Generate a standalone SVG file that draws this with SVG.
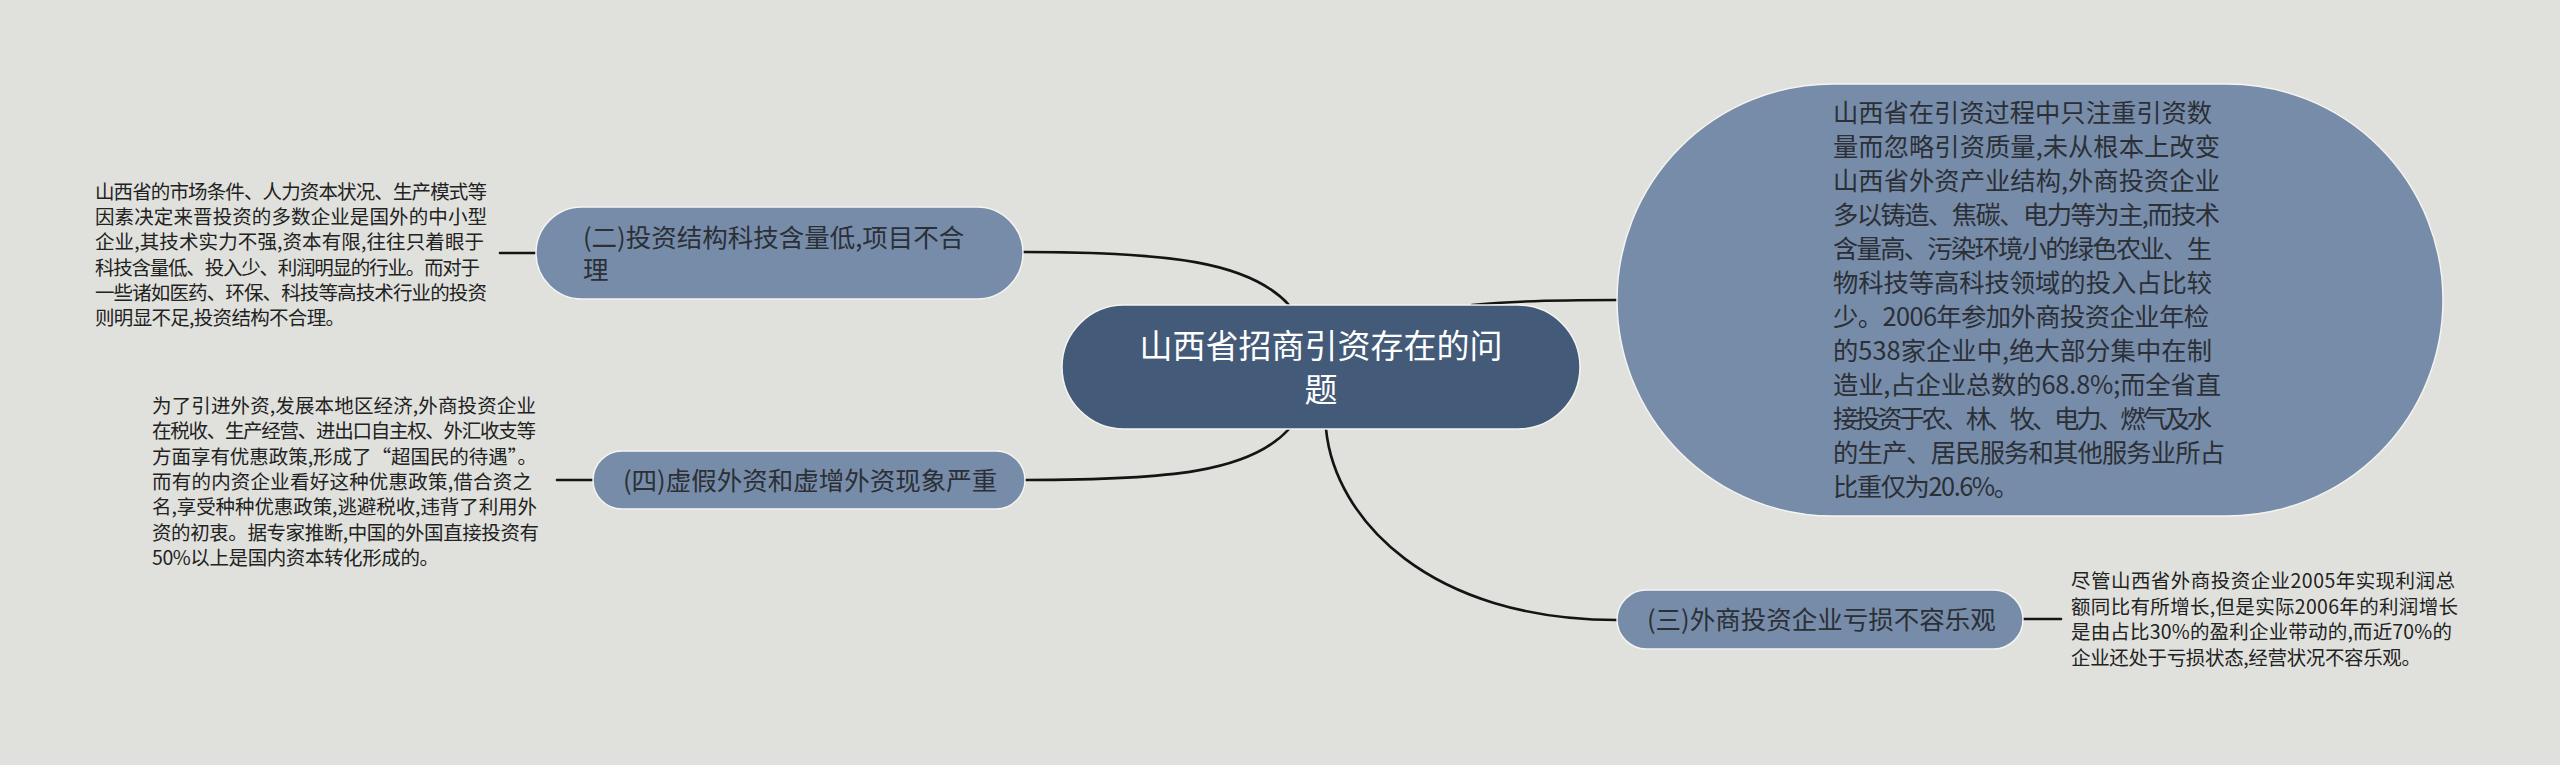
<svg xmlns="http://www.w3.org/2000/svg" width="2560" height="765" viewBox="0 0 2560 765">
<style>
.bg{fill:#e0e1dc}
.main{fill:#435a79;stroke:#f4f4f2;stroke-width:1.5}
.sub{fill:#778ca9;stroke:#f4f4f2;stroke-width:1.5}
.conn{fill:none;stroke:#141414;stroke-width:2.6;stroke-linecap:round}
text{font-family:"Noto Sans CJK SC","Noto Sans",sans-serif}
.tmain{fill:#ffffff;font-size:33px}
.tsub{fill:#2b2f36;font-size:25.5px}
.tbig{fill:#2b2f36;font-size:25.3px}
.tdet{fill:#222222;font-size:19.5px}
</style>
<rect class="bg" x="0" y="0" width="2560" height="765"/>
<g id="connectors">
<path class="conn" d="M1289,305 C1250,262 1170,252 1023,252"/>
<path class="conn" d="M1289,429 C1250,472 1170,480 1025,480"/>
<path class="conn" d="M1472,305 C1510,301 1550,300 1617,300"/>
<path class="conn" d="M1326,429 C1335,520 1430,620 1617,620"/>
<path class="conn" d="M500,253 L537,253"/>
<path class="conn" d="M557,480 L593,480"/>
<path class="conn" d="M2023,619 L2061,619"/>
</g>
<g id="root">
<rect class="main" x="1062" y="305" width="518" height="124" rx="62" ry="62"/>
<text class="tmain" text-anchor="middle"><tspan x="1321" y="358">山西省招商引资存在的问</tspan><tspan x="1321" y="402">题</tspan></text>
</g>
<g id="node-er">
<rect class="sub" x="536" y="207" width="487" height="92" rx="46" ry="46"/>
<text class="tsub"><tspan x="583" y="247">(二)投资结构科技含量低,项目不合</tspan><tspan x="583" y="279">理</tspan></text>
</g>
<g id="detail-er">
<text class="tdet" x="95" y="199" textLength="392">山西省的市场条件、人力资本状况、生产模式等</text>
<text class="tdet" x="95" y="224.2" textLength="392">因素决定来晋投资的多数企业是国外的中小型</text>
<text class="tdet" x="95" y="249.4" textLength="389">企业,其技术实力不强,资本有限,往往只着眼于</text>
<text class="tdet" x="95" y="274.6" textLength="385">科技含量低、投入少、利润明显的行业。而对于</text>
<text class="tdet" x="95" y="299.8" textLength="392">一些诸如医药、环保、科技等高技术行业的投资</text>
<text class="tdet" x="95" y="325" textLength="250">则明显不足,投资结构不合理。</text>
</g>
<g id="node-si">
<rect class="sub" x="593" y="451" width="432" height="58" rx="29" ry="29"/>
<text class="tsub" x="623" y="490">(四)虚假外资和虚增外资现象严重</text>
</g>
<g id="detail-si">
<text class="tdet" x="152" y="413" textLength="384">为了引进外资,发展本地区经济,外商投资企业</text>
<text class="tdet" x="152" y="438.3" textLength="384">在税收、生产经营、进出口自主权、外汇收支等</text>
<text class="tdet" x="152" y="463.6" textLength="385">方面享有优惠政策,形成了“超国民的待遇”。</text>
<text class="tdet" x="152" y="488.9" textLength="380">而有的内资企业看好这种优惠政策,借合资之</text>
<text class="tdet" x="152" y="514.2" textLength="385">名,享受种种优惠政策,逃避税收,违背了利用外</text>
<text class="tdet" x="152" y="539.5" textLength="387">资的初衷。据专家推断,中国的外国直接投资有</text>
<text class="tdet" x="152" y="564.8" textLength="287">50%以上是国内资本转化形成的。</text>
</g>
<g id="node-big">
<rect class="sub" x="1617" y="84" width="826" height="432" rx="216" ry="216"/>
<text class="tbig" x="1833" y="122" textLength="379">山西省在引资过程中只注重引资数</text>
<text class="tbig" x="1833" y="156" textLength="387">量而忽略引资质量,未从根本上改变</text>
<text class="tbig" x="1833" y="190" textLength="387">山西省外资产业结构,外商投资企业</text>
<text class="tbig" x="1833" y="224" textLength="387">多以铸造、焦碳、电力等为主,而技术</text>
<text class="tbig" x="1833" y="258" textLength="379">含量高、污染环境小的绿色农业、生</text>
<text class="tbig" x="1833" y="292" textLength="379">物科技等高科技领域的投入占比较</text>
<text class="tbig" x="1833" y="326" textLength="376">少。2006年参加外商投资企业年检</text>
<text class="tbig" x="1833" y="360" textLength="379">的538家企业中,绝大部分集中在制</text>
<text class="tbig" x="1833" y="394" textLength="388">造业,占企业总数的68.8%;而全省直</text>
<text class="tbig" x="1833" y="428" textLength="379">接投资于农、林、牧、电力、燃气及水</text>
<text class="tbig" x="1833" y="462" textLength="392">的生产、居民服务和其他服务业所占</text>
<text class="tbig" x="1833" y="496" textLength="186">比重仅为20.6%。</text>
</g>
<g id="node-san">
<rect class="sub" x="1617" y="590" width="406" height="59" rx="29.5" ry="29.5"/>
<text class="tsub" x="1647" y="629">(三)外商投资企业亏损不容乐观</text>
</g>
<g id="detail-san">
<text class="tdet" x="2071" y="588" textLength="384">尽管山西省外商投资企业2005年实现利润总</text>
<text class="tdet" x="2071" y="613.6" textLength="387">额同比有所增长,但是实际2006年的利润增长</text>
<text class="tdet" x="2071" y="639.2" textLength="381">是由占比30%的盈利企业带动的,而近70%的</text>
<text class="tdet" x="2071" y="664.8" textLength="350">企业还处于亏损状态,经营状况不容乐观。</text>
</g>
</svg>
